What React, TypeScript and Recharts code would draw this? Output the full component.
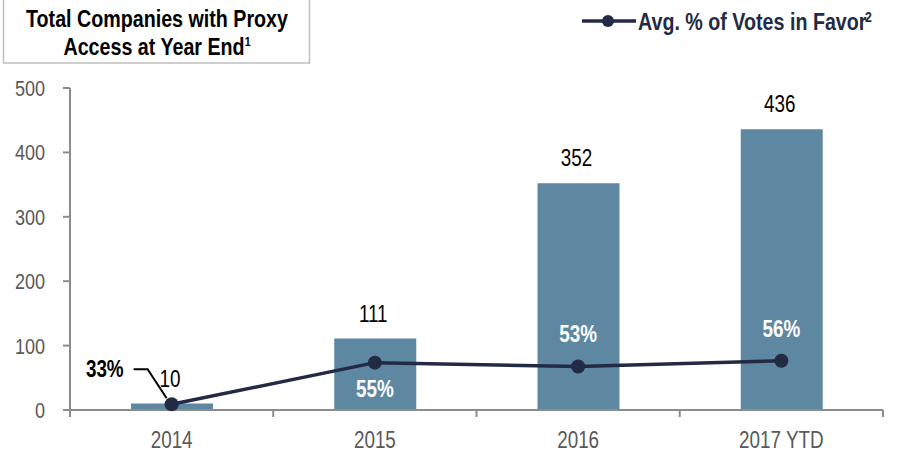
import React from 'react';
import { ComposedChart, Bar, Line, XAxis, YAxis, LabelList } from 'recharts';

const categories = ['2014', '2015', '2016', '2017 YTD'];
const companiesWithAccess = [10, 111, 352, 436];
const avgVotesInFavor = [33, 55, 53, 56];
const leftTicks = [0, 100, 200, 300, 400, 500];
// where each vote label sits relative to its point
const voteLabelSpot = ['leader', 'below', 'above', 'above'];

const data = categories.map((year, i) => ({
  year,
  companies: companiesWithAccess[i],
  votes: avgVotesInFavor[i],
}));

const FONT = "'Liberation Sans', Arial, sans-serif";
const NARROW = 0.82; // no Arial Narrow installed, so squeeze Arial-metric text
const BAR = '#5e87a1';
const LINE = '#232a44';
const AXIS = '#8c8c8c';
const TICK_TEXT = '#595959';

const W = 900;
const H = 451;
const M = { top: 88, right: 17, bottom: 0, left: 0 };
const Y_AXIS_W = 70;
const BAND = (W - M.left - M.right - Y_AXIS_W) / categories.length;

function NText({ x, y, anchor = 'middle', size = 23, bold = false, fill = '#000', children }: any) {
  return (
    <text
      transform={`translate(${x} ${y}) scale(${NARROW} 1)`}
      textAnchor={anchor}
      fontSize={size}
      fontWeight={bold ? 'bold' : 'normal'}
      fill={fill}
    >
      {children}
    </text>
  );
}

function YearTick(props: any) {
  const { x, y, payload, index } = props;
  const half = BAND / 2;
  return (
    <g>
      <line x1={x - half} x2={x - half} y1={y} y2={y + 7} stroke={AXIS} strokeWidth={2} />
      {index === categories.length - 1 && (
        <line x1={x + half} x2={x + half} y1={y} y2={y + 7} stroke={AXIS} strokeWidth={2} />
      )}
      <NText x={x} y={y + 38} fill={TICK_TEXT}>
        {payload.value}
      </NText>
    </g>
  );
}

function CountTick(props: any) {
  const { x, y, payload } = props;
  return (
    <NText x={x} y={y + 8} anchor="end" size={22} fill={TICK_TEXT}>
      {payload.value}
    </NText>
  );
}

function CountLabel(props: any) {
  const { x, y, width, value } = props;
  return (
    <NText x={x + width / 2 - 2} y={y - 17}>
      {value}
    </NText>
  );
}

function VoteLabel(props: any) {
  const { x, y, value, index } = props;
  const spot = voteLabelSpot[index];
  const txt = `${value}%`;
  if (spot === 'leader') {
    return (
      <g>
        <polyline
          points={`${x - 38},${y - 35} ${x - 24},${y - 35} ${x - 5},${y - 6}`}
          fill="none"
          stroke="#000"
          strokeWidth={2}
        />
        <NText x={x - 48} y={y - 27} anchor="end" bold>
          {txt}
        </NText>
      </g>
    );
  }
  const ty = spot === 'below' ? y + 34 : y - 24;
  return (
    <NText x={x} y={ty} bold fill="#fff">
      {txt}
    </NText>
  );
}

export default function App() {
  return (
    <div style={{ position: 'absolute', left: 0, top: 0, width: W, height: H, fontFamily: FONT, background: '#fff', overflow: 'hidden' }}>
      <ComposedChart width={W} height={H} data={data} margin={M}>
        <XAxis
          dataKey="year"
          height={41}
          axisLine={{ stroke: AXIS, strokeWidth: 2 }}
          tickLine={false}
          tickSize={0}
          tickMargin={0}
          tick={<YearTick />}
          interval={0}
        />
        <YAxis
          yAxisId="left"
          width={Y_AXIS_W}
          domain={[0, 500]}
          ticks={leftTicks}
          axisLine={{ stroke: AXIS, strokeWidth: 2 }}
          tickLine={{ stroke: AXIS, strokeWidth: 2 }}
          tickSize={7}
          tickMargin={18}
          tick={<CountTick />}
        />
        <YAxis yAxisId="votes" orientation="right" hide domain={[30, 200]} />
        <Bar yAxisId="left" dataKey="companies" fill={BAR} barSize={82} isAnimationActive={false}>
          <LabelList dataKey="companies" content={<CountLabel />} />
        </Bar>
        <Line
          yAxisId="votes"
          dataKey="votes"
          stroke={LINE}
          strokeWidth={3.5}
          dot={{ r: 7, fill: LINE, stroke: 'none' }}
          isAnimationActive={false}
        >
          <LabelList dataKey="votes" content={<VoteLabel />} />
        </Line>
      </ComposedChart>

      {/* title box and legend */}
      <svg width={W} height={70} style={{ position: 'absolute', left: 0, top: 0 }}>
        <rect x={3.5} y={-3} width={306} height={66} fill="#fff" stroke="#bfbfbf" strokeWidth={1.5} />
        <NText x={157} y={27} size={24} bold>
          Total Companies with Proxy
        </NText>
        <NText x={157} y={55} size={24} bold>
          Access at Year End
          <tspan fontSize={13} dy={-9}>1</tspan>
        </NText>

        <line x1={582} x2={636} y1={21} y2={21} stroke={LINE} strokeWidth={3.5} />
        <circle cx={608} cy={21} r={6} fill={LINE} />
        <NText x={638} y={30} anchor="start" size={24} bold fill={LINE}>
          Avg. % of Votes in Favor
        </NText>
        <NText x={865} y={22} anchor="start" size={15} bold fill={LINE}>
          2
        </NText>
      </svg>
    </div>
  );
}
